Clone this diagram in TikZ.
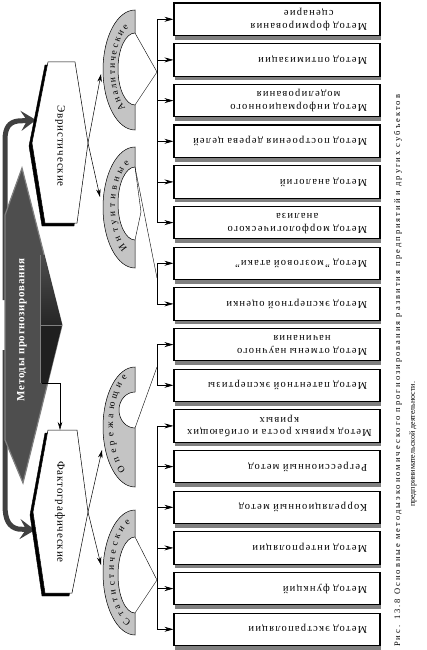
\documentclass[tikz,border=0pt]{standalone}
\usepackage{fontspec}
\setmainfont{Liberation Serif}
\usepackage{graphicx}
\usetikzlibrary{arrows.meta,calc,decorations.text,shadows}
\definecolor{bandgray}{HTML}{C4C4C4}
\definecolor{shadowgray}{HTML}{808080}
\definecolor{diamgray}{HTML}{4E4E4E}
\definecolor{arrowgray}{HTML}{404040}
\newcommand\mtext[1]{\rotatebox{180}{\begin{tabular}{@{}c@{}}#1\end{tabular}}}
\newcommand\arcfont{\fontsize{9.5}{12}\selectfont}
\tikzset {
  >=Stealth,
  every node/.style={font=\small},
  methbox/.style={draw, line width=1.1pt, fill=white,
    minimum width=206pt, minimum height=32.5pt,
    inner xsep=13pt, inner ysep=0pt, text width=180pt, align=right,
    font=\fontsize{10.5}{12.5}\selectfont\addfontfeature{LetterSpace=12},
    drop shadow={shadow xshift=1pt, shadow yshift=-4pt, fill=shadowgray, opacity=1}},
  feed/.style={-{Stealth[length=9pt,width=5pt]}, line width=0.7pt},
  tip/.style={-{Stealth[length=8pt,width=4.5pt]}, line width=0.5pt},
  band/.style={draw, line width=0.5pt, fill=bandgray},
  arclabel/.style={decorate, decoration={text along path,
    text align={fit to path}, text={|\arcfont|#1}}},
  grouptext/.style={rotate=-90, inner sep=0pt,
    font=\fontsize{11}{13}\selectfont\addfontfeature{LetterSpace=8}},
  fatarrow/.style={draw=arrowgray, line width=5pt,
    -{Stealth[length=15pt,width=20pt,inset=6pt]}},
  captext/.style={rotate=90, anchor=west, inner sep=0pt,
    font=\fontsize{8.5}{10}\selectfont},
}

\begin{document}
\begin{tikzpicture}[x=1pt,y=-1pt]
  \useasboundingbox (0,0) rectangle (427,650);

  % main block
  \coordinate (dm-t) at (22,168);
  \coordinate (dm-r) at (62,325);
  \coordinate (dm-b) at (23,483);
  \coordinate (dm-f) at (42,383);
  \draw[fatarrow] (5,300) -- (5,140) .. controls (5,128) and (9,122) .. (18,121) -- (36,120);
  \draw[fatarrow] (5,350) -- (5,505) .. controls (5,520) and (9,527) .. (18,529) -- (35,530);
  \filldraw[fill=diamgray, draw=gray, line width=1.2pt]
    (dm-t) -- (dm-r) -- (dm-b) -- (5,440) -- (5,215) -- cycle;
  \fill[top color=black!70, bottom color=black!85] (40,255) -- (44.2,255) -- (dm-r) -- (40,325) -- cycle;
  \fill[black!88] (40,325) -- (dm-r) -- (47.7,383) -- (40,383) -- cycle;
  \draw[gray, line width=0.8pt] (40,255) -- (40,383) (40,325) -- (dm-r);
  \node[rotate=90, text=white, font=\fontsize{11}{13}\selectfont\bfseries\addfontfeature{LetterSpace=6}]
    (main) at (22,330) {Методы прогнозирования};

  % heuristic / factual
  \filldraw[black] (45,65) -- (72,65) -- (85,146) -- (74,226) -- (42,226) -- (29,146) -- cycle;
  \filldraw[fill=white, draw=black, line width=0.5pt]
    (48,62) -- (75,62) -- (88,143) -- (77,223) -- (45,223) -- (32,143) -- cycle;
  \node[grouptext] (evr) at (60,146) {Эвристические};
  \coordinate (evr-r) at (88,143);

  \filldraw[black] (45,433) -- (74,433) -- (85,515) -- (69,596) -- (42,596) -- (30,515) -- cycle;
  \filldraw[fill=white, draw=black, line width=0.5pt]
    (48,430) -- (77,430) -- (88,512) -- (72,593) -- (45,593) -- (33,512) -- cycle;
  \node[grouptext] (fact) at (60,512) {Фактографические};
  \coordinate (fact-r) at (88,512);
  \coordinate (fact-t) at (60,430);
  \draw[tip] (dm-f) -| (fact-t);

  % bands
  \path[band] (135,10) arc[start angle=-90, end angle=-270, x radius=32, y radius=60]
    -- (135,105) arc[start angle=90, end angle=270, x radius=17, y radius=36] -- cycle;
  \path[arclabel=Аналитические]
    ($(135,70)+(118:20 and 44)$) arc[start angle=118, end angle=252, x radius=20, y radius=44];
  \path[band] (135,147) arc[start angle=-90, end angle=-270, x radius=32, y radius=60.5]
    -- (135,240) arc[start angle=90, end angle=270, x radius=17, y radius=36.5] -- cycle;
  \path[arclabel=Интуитивные]
    ($(135,207)+(112:20 and 45)$) arc[start angle=112, end angle=255, x radius=20, y radius=45];
  \path[band] (135,367) arc[start angle=-90, end angle=-270, x radius=32, y radius=60]
    -- (135,428) arc[start angle=90, end angle=270, x radius=16, y radius=18] -- cycle;
  \path[arclabel=Опережающие]
    ($(135,425)+(115:22 and 50)$) arc[start angle=115, end angle=250, x radius=22, y radius=50];
  \path[band] (135,510) arc[start angle=-90, end angle=-270, x radius=32, y radius=62.5]
    -- (135,613) arc[start angle=90, end angle=270, x radius=17, y radius=38] -- cycle;
  \path[arclabel=Статистические]
    ($(135,572)+(100:21 and 50)$) arc[start angle=100, end angle=258, x radius=21, y radius=50];

  \draw[tip] (evr-r) -- (101,74);
  \draw[tip] (evr-r) -- (100,197);
  \draw[tip] (fact-r) -- (102,450);
  \draw[tip] (fact-r) -- (101,565);

  % methods
  \node[methbox] (b1) at (277,19.3) {\mtext{Метод формирования\\сценарие}};
  \node[methbox] (b2) at (277,59.9) {\mtext{Метод оптимизации}};
  \node[methbox] (b3) at (277,100.6) {\mtext{Метод информационного\\моделирования}};
  \node[methbox] (b4) at (277,141.3) {\mtext{Метод построения дерева целей}};
  \node[methbox] (b5) at (277,181.9) {\mtext{Метод аналогий}};
  \node[methbox] (b6) at (277,222.6) {\mtext{Метод морфологического\\анализа}};
  \node[methbox] (b7) at (277,263.3) {\mtext{Метод "мозговой атаки"}};
  \node[methbox] (b8) at (277,303.9) {\mtext{Метод экспертной оценки}};
  \node[methbox] (b9) at (277,344.6) {\mtext{Метод отмены научного\\начинания}};
  \node[methbox] (b10) at (277,385.3) {\mtext{Метод патентной экспертизы}};
  \node[methbox] (b11) at (277,425.9) {\mtext{Метод кривых роста и огибающих\\кривых}};
  \node[methbox] (b12) at (277,466.6) {\mtext{Регрессионный метод}};
  \node[methbox] (b13) at (277,507.3) {\mtext{Корреляционный метод}};
  \node[methbox] (b14) at (277,547.9) {\mtext{Метод интерполяции}};
  \node[methbox] (b15) at (277,588.6) {\mtext{Метод функций}};
  \node[methbox] (b16) at (277,629.3) {\mtext{Метод экстраполяции}};

  % buses
  \coordinate (bus) at (157,0);
  \draw[line width=0.7pt] (b1.west -| bus) -- (b6.west -| bus);
  \draw[line width=0.7pt] (b7.west -| bus) -- (b8.west -| bus);
  \draw[line width=0.7pt] (b9.west -| bus) -- (b10.west -| bus);
  \draw[line width=0.7pt] (b11.west -| bus) -- (b16.west -| bus);
  \draw[feed] (b1.west -| bus) -- (b1.west);
  \draw[feed] (b2.west -| bus) -- (b2.west);
  \draw[feed] (b3.west -| bus) -- (b3.west);
  \draw[feed] (b4.west -| bus) -- (b4.west);
  \draw[feed] (b5.west -| bus) -- (b5.west);
  \draw[feed] (b6.west -| bus) -- (b6.west);
  \draw[feed] (b7.west -| bus) -- (b7.west);
  \draw[feed] (b8.west -| bus) -- (b8.west);
  \draw[feed] (b9.west -| bus) -- (b9.west);
  \draw[feed] (b10.west -| bus) -- (b10.west);
  \draw[feed] (b11.west -| bus) -- (b11.west);
  \draw[feed] (b12.west -| bus) -- (b12.west);
  \draw[feed] (b13.west -| bus) -- (b13.west);
  \draw[feed] (b14.west -| bus) -- (b14.west);
  \draw[feed] (b15.west -| bus) -- (b15.west);
  \draw[feed] (b16.west -| bus) -- (b16.west);

  % band joints
  \draw (135,33) -- (157,72) -- (135,105);
  \draw (135,167) -- (141,212) -- (135,240);
  \draw (135,167) -- (157,278);
  \draw (135,428) -- (157,367);
  \draw (135,537) -- (157,580) -- (135,613);

  % caption
  \node[captext] (cap1) at (398,647)
    {\addfontfeature{LetterSpace=24}Рис. 13.8 Основные методыэкономического прогнозирования развития предприятий и других субъектов};
  \node[captext] (cap2) at (413,507) {\fontsize{8}{10}\selectfont предпринимательской деятельности.};
\end{tikzpicture}
\end{document}
